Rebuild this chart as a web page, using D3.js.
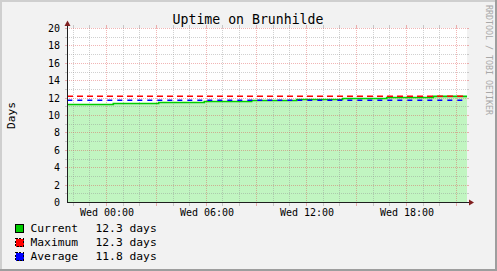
<!DOCTYPE html>
<html><head><meta charset="utf-8">
<script src="https://cdn.jsdelivr.net/npm/d3@7"></script>
<style>body{margin:0;background:#f2f2f2}svg{display:block}</style>
</head><body><svg id="c" width="497" height="271"></svg>
<script>
// ---- data ----
const hours = [-2.36, 0.42, 3.14, 5.88, 8.72, 11.42, 14.18, 16.82, 19.62, 21.64];
const current = [11.26, 11.38, 11.49, 11.61, 11.72, 11.84, 11.95, 12.07, 12.20, 12.20];
const maximum = 12.21;
const average = 11.76;
const xTickHours = [0, 6, 12, 18];
const xTickLabels = ["Wed 00:00", "Wed 06:00", "Wed 12:00", "Wed 18:00"];
const yTicks = [0, 2, 4, 6, 8, 10, 12, 14, 16, 18, 20];
const legendNames = ["Current", "Maximum", "Average"];
const legendValues = ["12.3 days", "12.3 days", "11.8 days"];
const legendColors = ["#00cc00", "#ff0000", "#0000ff"];
const title = "Uptime on Brunhilde";
const unitLabel = "Days";
const watermark = "RRDTOOL / TOBI OETIKER";

// ---- drawing ----
const W = 497, H = 271;
const X0 = 67, X1 = 467, Y0 = 202.5, Y1 = 28.5;
const font = "'DejaVu Sans Mono', monospace";
const svg = d3.select("#c");

const x = d3.scaleLinear().domain([hours[0], hours[hours.length - 1]]).range([X0, X1]);
const y = d3.scaleLinear().domain([0, 20]).range([Y0, Y1]);
const snap = v => Math.floor(v) + 0.5;

// background + frame
svg.append("rect").attr("width", W).attr("height", H).attr("fill", "#f2f2f2");
svg.append("rect").attr("x", 0).attr("y", 0).attr("width", W).attr("height", 2).attr("fill", "#cfcfcf");
svg.append("rect").attr("x", 0).attr("y", 0).attr("width", 2).attr("height", H).attr("fill", "#cfcfcf");
svg.append("rect").attr("x", 0).attr("y", H - 2).attr("width", W).attr("height", 2).attr("fill", "#9e9e9e");
svg.append("rect").attr("x", W - 2).attr("y", 0).attr("width", 2).attr("height", H).attr("fill", "#9e9e9e");

// canvas
svg.append("rect").attr("x", X0).attr("y", 28).attr("width", X1 - X0).attr("height", 175).attr("fill", "#ffffff");

// area + data
const pts = hours.map((h, i) => [h, current[i]]);
svg.append("path").datum(pts)
  .attr("d", d3.area().x(d => x(d[0])).y0(y(0) + 0.5).y1(d => y(d[1])).curve(d3.curveStepAfter))
  .attr("fill", "#c1f5c1");

// grid
const minorCol = "rgba(143,143,143,0.42)", majorCol = "rgba(222,79,79,0.42)";
const g = svg.append("g").attr("shape-rendering", "crispEdges");
const hMinor = d3.range(1, 20, 1).filter(v => v % 2 !== 0);
const hMajor = yTicks.filter(v => v > 0);
const vAll = d3.range(Math.ceil(hours[0]), Math.floor(hours[hours.length - 1]) + 1);
const vMinor = vAll.filter(h => ((h % 3) + 3) % 3 !== 0);
const vMajor = vAll.filter(h => ((h % 3) + 3) % 3 === 0);

function hLines(vals, col) {
  vals.forEach(v => {
    const yy = snap(y(v));
    g.append("line").attr("x1", X0).attr("x2", X1).attr("y1", yy).attr("y2", yy)
      .attr("stroke", col).attr("stroke-dasharray", "1,1");
    g.append("line").attr("x1", X0 - 2).attr("x2", X0).attr("y1", yy).attr("y2", yy).attr("stroke", col);
    g.append("line").attr("x1", X1).attr("x2", X1 + 2).attr("y1", yy).attr("y2", yy).attr("stroke", col);
  });
}
function vLines(vals, col) {
  vals.forEach(h => {
    const xx = snap(x(h));
    g.append("line").attr("x1", xx).attr("x2", xx).attr("y1", 28).attr("y2", 203)
      .attr("stroke", col).attr("stroke-dasharray", "1,1");
    g.append("line").attr("x1", xx).attr("x2", xx).attr("y1", 203).attr("y2", 206).attr("stroke", col);
    g.append("line").attr("x1", xx).attr("x2", xx).attr("y1", 25).attr("y2", 28).attr("stroke", col);
  });
}
hLines(hMinor, minorCol);
vLines(vMinor, minorCol);
hLines(hMajor, majorCol);
vLines(vMajor, majorCol);

// lines
svg.append("path").datum(pts)
  .attr("d", d3.line().x(d => x(d[0])).y(d => y(d[1])).curve(d3.curveStepAfter))
  .attr("fill", "none").attr("stroke", legendColors[0]).attr("stroke-width", 1.6);
svg.append("line").attr("x1", X0).attr("x2", X1).attr("y1", y(maximum)).attr("y2", y(maximum))
  .attr("stroke", legendColors[1]).attr("stroke-width", 1.6).attr("stroke-dasharray", "6,4");
svg.append("line").attr("x1", X0 + 0.3).attr("x2", X1).attr("y1", y(average)).attr("y2", y(average))
  .attr("stroke", legendColors[2]).attr("stroke-width", 1.6).attr("stroke-dasharray", "5,5");

// axes
const ax = svg.append("g").attr("shape-rendering", "crispEdges");
ax.append("line").attr("x1", X0).attr("x2", X1 + 4).attr("y1", 202.5).attr("y2", 202.5).attr("stroke", "#1f1f1f");
ax.append("line").attr("x1", X0 + 0.5).attr("x2", X0 + 0.5).attr("y1", 203).attr("y2", 24).attr("stroke", "#1f1f1f");
svg.append("path").attr("d", `M${X1 + 2},199.5 L${X1 + 2},205.5 L${X1 + 7},202.5 Z`).attr("fill", "#801f1f");
svg.append("path").attr("d", `M${X0 - 2.5},26 L${X0 + 3.5},26 L${X0 + 0.5},20.5 Z`).attr("fill", "#801f1f");

// y labels
svg.append("g").selectAll("text").data(yTicks).join("text")
  .attr("x", 60).attr("y", d => snap(y(d)) + 3.6)
  .attr("text-anchor", "end").attr("font-family", font).attr("font-size", "10px").attr("fill", "#000")
  .text(d => d);

// x labels
svg.append("g").selectAll("text").data(xTickHours).join("text")
  .attr("x", d => x(d) + 0.7).attr("y", 216)
  .attr("text-anchor", "middle").attr("font-family", font).attr("font-size", "10px").attr("fill", "#000")
  .text((d, i) => xTickLabels[i]);

// title
svg.append("text").attr("x", 248).attr("y", 24).attr("text-anchor", "middle")
  .attr("font-family", font).attr("font-size", "13.2px").attr("fill", "#000").text(title);

// unit
svg.append("text").attr("transform", "translate(14.5,115.5) rotate(-90)").attr("text-anchor", "middle")
  .attr("font-family", font).attr("font-size", "11.3px").attr("fill", "#000").text(unitLabel);

// watermark
svg.append("text").attr("transform", "translate(485.5,60) rotate(90)").attr("text-anchor", "middle")
  .attr("font-family", font).attr("font-size", "8.3px").attr("fill", "#a8a8a8").text(watermark);

// legend
const lg = svg.append("g");
legendNames.forEach((n, i) => {
  const by = 224.5 + i * 14;
  lg.append("rect").attr("x", 15.5).attr("y", by).attr("width", 8).attr("height", 8)
    .attr("fill", legendColors[i]).attr("stroke", "#000").attr("stroke-width", 1)
    .attr("stroke-dasharray", i === 0 ? null : "2,1.5").attr("shape-rendering", "crispEdges");
  lg.append("text").attr("x", 30.5).attr("y", by + 7.7)
    .attr("font-family", font).attr("font-size", "11.3px").attr("fill", "#000").text(n);
  lg.append("text").attr("x", 95.5).attr("y", by + 7.7)
    .attr("font-family", font).attr("font-size", "11.3px").attr("fill", "#000").text(legendValues[i]);
});
</script>
</body></html>
